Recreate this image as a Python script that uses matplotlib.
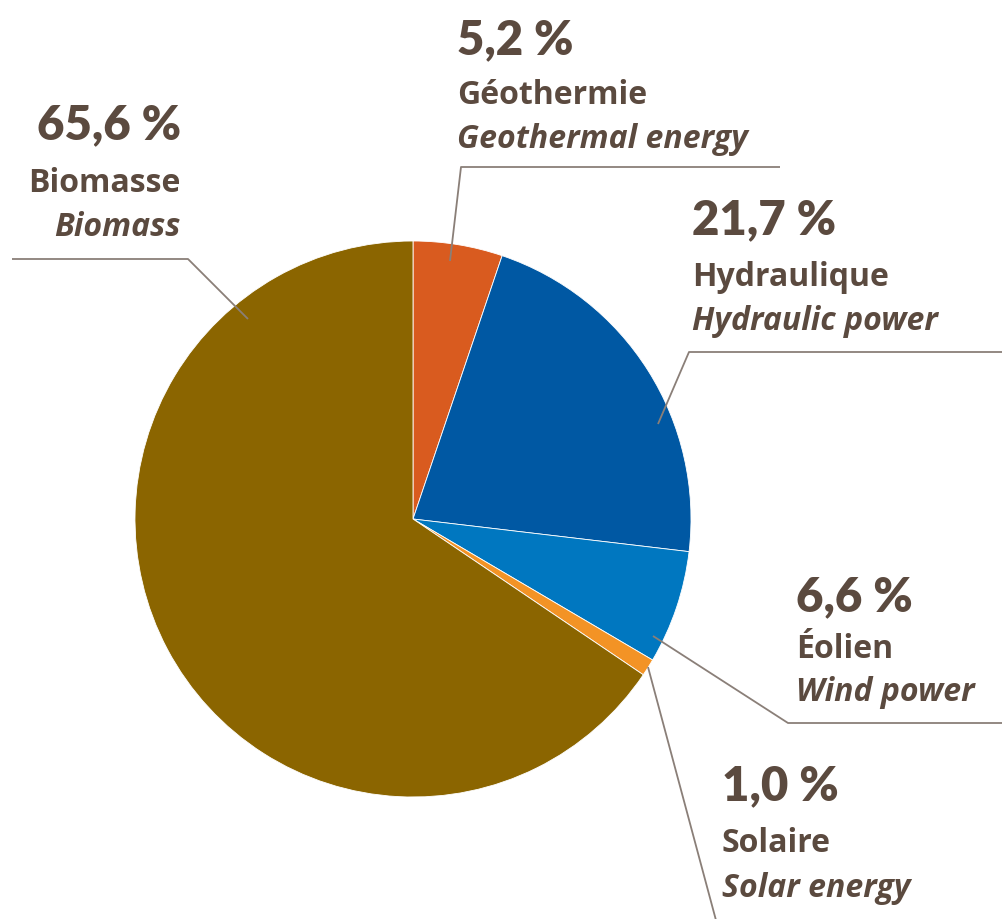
#!/usr/bin/env python3
"""
Renewable energy mix pie chart (French / English labels)
"""
import matplotlib
matplotlib.use('Agg')
import matplotlib.pyplot as plt

plt.rcParams['font.family'] = ['Lato', 'DejaVu Sans']

# Data (clockwise from 12 o'clock)
sources_fr = ['Géothermie', 'Hydraulique', 'Éolien', 'Solaire', 'Biomasse']
sources_en = ['Geothermal energy', 'Hydraulic power', 'Wind power', 'Solar energy', 'Biomass']
shares = [5.2, 21.7, 6.6, 1.0, 65.6]
colors = ['#D95B1F', '#0058A3', '#0077C0', '#F39325', '#8B6500']

TEXT = '#5B4A3F'
LINE = '#8A7F78'
LABEL_FONT = ['Open Sans', 'DejaVu Sans']
W, H = 1003, 920


def py(y):
    """convert pixel-from-top to axis y"""
    return H - y


fig = plt.figure(figsize=(W / 100, H / 100), dpi=100)
ax = fig.add_axes([0, 0, 1, 1])

ax.pie(shares, colors=colors, startangle=90, counterclock=False,
       center=(413, py(520)), radius=278,
       wedgeprops=dict(linewidth=0.6, edgecolor='white'), frame=True)
ax.set_xlim(0, W)
ax.set_ylim(0, H)
ax.set_aspect('equal')
ax.axis('off')

# label blocks: (x, y of pct, ha) and leader line path in pixels
labels = [
    # geothermal
    dict(x=457, y=[40, 95, 139], ha='left',
         path=[(450, 262), (461, 168), (780, 168)]),
    # hydraulic
    dict(x=692, y=[220, 277, 322], ha='left',
         path=[(658, 425), (689, 353), (1003, 353)]),
    # wind
    dict(x=796, y=[597, 649, 693], ha='left',
         path=[(653, 637), (788, 724), (1003, 724)]),
    # solar
    dict(x=722, y=[786, 844, 889], ha='left',
         path=[(648, 668), (717, 925)]),
    # biomass
    dict(x=181, y=[125, 184, 227], ha='right',
         path=[(248, 320), (188, 260), (12, 260)]),
]

for lab, fr, en, val in zip(labels, sources_fr, sources_en, shares):
    pct = f'{val:.1f}'.replace('.', ',') + ' %'
    ax.text(lab['x'], py(lab['y'][0]), pct, ha=lab['ha'], va='center',
            fontsize=34, fontweight='heavy', color=TEXT)
    ax.text(lab['x'], py(lab['y'][1]), fr, ha=lab['ha'], va='center',
            fontsize=23, fontweight='bold', color=TEXT, family=LABEL_FONT)
    ax.text(lab['x'], py(lab['y'][2]), en, ha=lab['ha'], va='center',
            fontsize=23, fontweight='bold', style='italic', color=TEXT,
            family=LABEL_FONT)
    xs = [p[0] for p in lab['path']]
    ys = [py(p[1]) for p in lab['path']]
    ax.plot(xs, ys, color=LINE, linewidth=1.3, solid_capstyle='butt')

plt.savefig('out.png', dpi=100, facecolor='white')
plt.close()
